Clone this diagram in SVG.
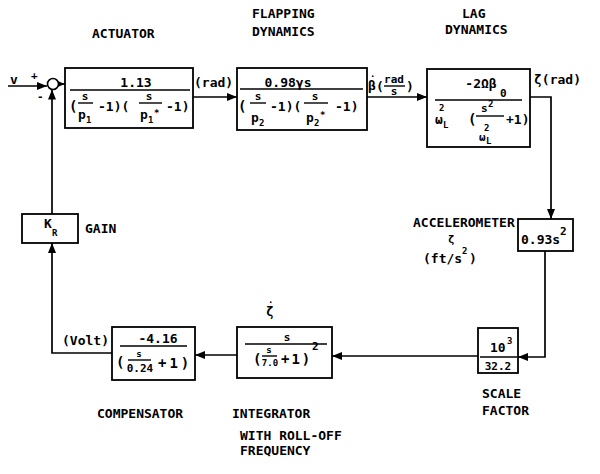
<svg xmlns="http://www.w3.org/2000/svg" width="600" height="474" viewBox="0 0 600 474">
<defs>
<style>
text{font-family:"DejaVu Sans Mono","Liberation Mono",monospace;font-weight:bold;fill:#000}
.lbl{font-size:13px}
.n{font-size:13px}
.p{font-size:14px}
.s{font-size:11px}
.t{font-size:9px}
.box{fill:#fff;stroke:#000;stroke-width:1.8}
.fl{stroke:#000;stroke-width:1.4}
.c{fill:none;stroke:#000;stroke-width:1.7}
</style>
<marker id="ah" viewBox="0 0 10 8" refX="10" refY="4" markerWidth="10" markerHeight="8" markerUnits="userSpaceOnUse" orient="auto">
<path d="M0,0 L10,4 L0,8 z" fill="#000"/>
</marker>
</defs>
<rect width="600" height="474" fill="#fff"/>

<g id="connectors">
<path class="c" d="M8,86 H47" marker-end="url(#ah)"/>
<path class="c" d="M58.5,84 H65" marker-end="url(#ah)"/>
<path class="c" d="M193,97 H237" marker-end="url(#ah)"/>
<path class="c" d="M367,97 H427" marker-end="url(#ah)"/>
<path class="c" d="M530,97 H551 V219" marker-end="url(#ah)"/>
<path class="c" d="M545,251 V357 H518" marker-end="url(#ah)"/>
<path class="c" d="M478,356 H332" marker-end="url(#ah)"/>
<path class="c" d="M237,355 H195" marker-end="url(#ah)"/>
<path class="c" d="M112,353 H52 V243" marker-end="url(#ah)"/>
<path class="c" d="M52,214 V89.5" marker-end="url(#ah)"/>
</g>

<g id="input">
<text class="lbl" x="10" y="84">v</text>
<text class="s" x="31" y="79">+</text>
<text class="s" x="37" y="100">-</text>
</g>

<g id="summing">
<circle cx="53" cy="84" r="5.5" fill="#fff" stroke="#000" stroke-width="1.6"/>
</g>

<g id="actuator">
<text class="lbl" x="92" y="38">ACTUATOR</text>
<rect class="box" x="65" y="68" width="128" height="60"/>
<text class="n" x="136" y="87" text-anchor="middle">1.13</text>
<line class="fl" x1="70" y1="90" x2="190" y2="90"/>
<text class="p" x="69" y="111">(</text>
<text class="s" x="85" y="100" text-anchor="middle">s</text>
<line class="fl" x1="78" y1="103" x2="93" y2="103"/>
<text class="n" x="78" y="119">p</text><text class="t" x="86" y="123">1</text>
<text class="n" x="98" y="111">-1)(</text>
<text class="s" x="149" y="100" text-anchor="middle">s</text>
<line class="fl" x1="139" y1="103" x2="162" y2="103"/>
<text class="n" x="140" y="119">p</text><text class="t" x="148" y="123">1</text><text class="t" x="154" y="116">*</text>
<text class="n" x="166" y="111">-1)</text>
<text class="n" x="194" y="87">(rad)</text>
</g>

<g id="flapping">
<text class="lbl" x="252" y="18">FLAPPING</text>
<text class="lbl" x="252" y="36">DYNAMICS</text>
<rect class="box" x="237" y="68" width="130" height="62"/>
<text class="n" x="288" y="87" text-anchor="middle">0.98γs</text>
<line class="fl" x1="240" y1="89" x2="363" y2="89"/>
<text class="p" x="238" y="111">(</text>
<text class="s" x="258" y="100" text-anchor="middle">s</text>
<line class="fl" x1="250" y1="103" x2="266" y2="103"/>
<text class="n" x="251" y="122">p</text><text class="t" x="259" y="126">2</text>
<text class="n" x="270" y="111">-1)(</text>
<text class="s" x="315" y="100" text-anchor="middle">s</text>
<line class="fl" x1="304" y1="103" x2="328" y2="103"/>
<text class="n" x="306" y="122">p</text><text class="t" x="314" y="126">2</text><text class="t" x="320" y="118">*</text>
<text class="n" x="335" y="111">-1)</text>
<text class="n" x="368" y="90">β</text>
<text class="t" x="370" y="77">.</text>
<text class="n" x="376" y="91">(</text>
<text class="s" x="394" y="83" text-anchor="middle">rad</text>
<line class="fl" x1="384" y1="86" x2="405" y2="86"/>
<text class="s" x="394" y="95" text-anchor="middle">s</text>
<text class="n" x="406" y="91">)</text>
</g>

<g id="lag">
<text class="lbl" x="462" y="18">LAG</text>
<text class="lbl" x="445" y="34">DYNAMICS</text>
<rect class="box" x="427" y="69" width="103" height="78"/>
<text class="n" x="481" y="88" text-anchor="middle">-2Ωβ</text>
<text class="s" x="500" y="97">0</text>
<line class="fl" x1="435" y1="100" x2="522" y2="100"/>
<text class="t" x="439" y="111">2</text>
<text class="n" x="435" y="124">ω</text><text class="t" x="443" y="128">L</text>
<text class="p" x="468" y="124">(</text>
<text class="s" x="481" y="112">s</text><text class="t" x="488" y="107">2</text>
<line class="fl" x1="476" y1="116" x2="504" y2="116"/>
<text class="t" x="484" y="131">2</text>
<text class="s" x="479" y="141">ω</text><text class="t" x="486" y="144">L</text>
<text class="n" x="506" y="124">+1)</text>
<text class="n" x="534" y="84">ζ(rad)</text>
</g>

<g id="accelerometer">
<text class="lbl" x="413" y="227">ACCELEROMETER</text>
<text class="s" x="448" y="243">ζ</text>
<text class="n" x="423" y="263">(ft/s</text><text class="t" x="462" y="254">2</text><text class="n" x="469" y="263">)</text>
<rect class="box" x="518" y="219" width="55" height="32"/>
<text class="n" x="521" y="244">0.93s</text><text class="s" x="560" y="235">2</text>
</g>

<g id="scale">
<rect class="box" x="478" y="328" width="40" height="45"/>
<text class="n" x="490" y="352">10</text><text class="t" x="507" y="344">3</text>
<line class="fl" x1="480" y1="357" x2="517" y2="357"/>
<text class="s" x="498" y="370" text-anchor="middle">32.2</text>
<text class="lbl" x="482" y="398">SCALE</text>
<text class="lbl" x="482" y="415">FACTOR</text>
</g>

<g id="integrator">
<rect class="box" x="237" y="327" width="95" height="51"/>
<text class="s" x="287" y="341" text-anchor="middle">s</text>
<line class="fl" x1="245" y1="344" x2="327" y2="344"/>
<text class="p" x="253" y="364">(</text>
<text class="t" x="269" y="353" text-anchor="middle">s</text>
<line class="fl" x1="262" y1="356" x2="277" y2="356"/>
<text class="t" x="270" y="366" text-anchor="middle">7.0</text>
<text class="p" x="281" y="364" letter-spacing="2">+1)</text>
<text class="s" x="312" y="350">2</text>
<text class="n" x="266" y="316">ζ</text>
<text class="t" x="268" y="303">.</text>
<text class="lbl" x="232" y="418">INTEGRATOR</text>
<text class="lbl" x="240" y="440">WITH ROLL-OFF</text>
<text class="lbl" x="240" y="455">FREQUENCY</text>
</g>

<g id="compensator">
<rect class="box" x="112" y="327" width="83" height="53"/>
<text class="n" x="158" y="343" text-anchor="middle">-4.16</text>
<line class="fl" x1="120" y1="346" x2="187" y2="346"/>
<text class="p" x="116" y="367">(</text>
<text class="t" x="139" y="357" text-anchor="middle">s</text>
<line class="fl" x1="128" y1="360" x2="151" y2="360"/>
<text class="s" x="140" y="372" text-anchor="middle">0.24</text>
<text class="p" x="158" y="368" letter-spacing="3">+1)</text>
<text class="n" x="62" y="345">(Volt)</text>
<text class="lbl" x="97" y="418">COMPENSATOR</text>
</g>

<g id="gain">
<rect class="box" x="22" y="214" width="56" height="29"/>
<text class="n" x="44" y="228">K</text><text class="t" x="52" y="236">R</text>
<text class="lbl" x="85" y="233">GAIN</text>
</g>
</svg>
